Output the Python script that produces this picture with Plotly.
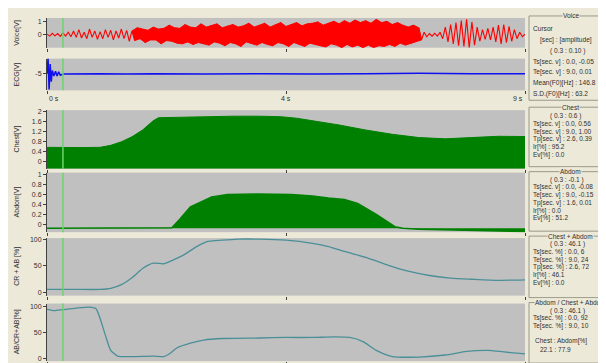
import numpy as np
import plotly.graph_objects as go

# ---------------- data ----------------
T_START, T_END = 0.0, 9.0
cursor_t = 0.3

# voice waveform, one value every 0.05 s (0 .. 9 s)
voice_v = [
    0.05, -0.1, 0.12, -0.08, 0.1, -0.12, 0.15, -0.1, 0.2, -0.15,
    0.3, -0.2, 0.4, -0.25, 0.2, -0.3, 0.45, -0.2, 0.3, -0.35,
    0.25, -0.3, 0.4, -0.2, 0.35, -0.4, 0.3, -0.25, 0.45, -0.3,
    0.35, -0.5, 0.3, -0.45, 0.55, -0.3, 0.45, -0.6, 0.35, -0.4,
    0.6, -0.4, 0.45, -0.7, 0.5, -0.45, 0.75, -0.5, 0.55, -0.65,
    0.5, -0.7, 0.8, -0.55, 0.6, -0.75, 0.55, -0.6, 0.85, -0.7,
    0.6, -0.8, 0.7, -0.55, 0.85, -0.65, 0.55, -0.85, 0.7, -0.6,
    0.8, -0.7, 0.6, -0.9, 0.7, -0.55, 0.9, -0.7, 0.6, -0.8,
    0.75, -0.6, 0.9, -0.75, 0.6, -0.85, 0.8, -0.6, 0.95, -0.7,
    0.65, -0.9, 0.8, -0.6, 0.95, -0.75, 0.7, -0.9, 0.85, -0.65,
    0.9, -0.7, 1.0, -0.85, 0.75, -0.95, 0.9, -0.7, 1.05, -0.8,
    0.85, -1.0, 1.1, -0.75, 0.9, -0.95, 1.15, -0.8, 0.95, -1.0,
    1.1, -0.8, 0.9, -1.0, 1.2, -0.85, 0.95, -0.9, 1.05, -0.75,
    0.8, -0.9, 0.95, -0.65, 0.75, -0.8, 0.6, -0.7, 0.75, -0.55,
    0.55, -0.4, 0.2, -0.15, 0.1, -0.1, 0.12, -0.1, 0.2, -0.3,
    0.6, -0.55, 0.8, -0.7, 0.95, -0.85, 1.1, -0.9, 1.2, -1.0,
    1.0, -0.8, 0.6, -0.5, 0.4, -0.35, 0.5, -0.4, 0.6, -0.55,
    0.75, -0.7, 0.8, -0.6, 0.65, -0.5, 0.4, -0.3, 0.2, -0.15, 0.05,
]
# time span in which the voice trace is so dense it reads as a solid band
voice_dense_span = [1.6, 7.1]

ecg_t = [0, 0.02, 0.04, 0.06, 0.08, 0.10, 0.13, 0.16, 0.19, 0.22, 0.25, 0.3,
         1.0, 1.5, 2.0, 3.0, 4.0, 5.0, 6.0, 7.0, 8.0, 9.0]
ecg_v = [-5, -3.1, -7.0, -3.8, -6.0, -4.6, -5.3, -4.7, -5.3, -4.75, -5.2, -5.05,
         -5.0, -5.05, -5.0, -5.05, -5.0, -5.05, -5.0, -4.95, -5.0, -5.0]

chest_t = [0, 0.3, 0.6, 1.0, 1.2, 1.4, 1.6, 1.8, 2.0, 2.1, 2.5, 3.0, 3.5, 4.0,
           4.4, 4.7, 5.0, 5.5, 6.0, 6.5, 7.0, 7.5, 8.0, 8.5, 9.0]
chest_v = [0.56, 0.55, 0.55, 0.56, 0.64, 0.78, 0.98, 1.25, 1.62, 1.74, 1.76, 1.78,
           1.8, 1.8, 1.78, 1.72, 1.62, 1.45, 1.25, 1.08, 0.95, 0.9, 0.95, 1.0, 0.99]

abdom_t = [0, 1.0, 2.0, 2.35, 2.5, 2.7, 2.9, 3.1, 3.4, 4.0, 4.6, 5.0, 5.3, 5.6,
           5.85, 6.2, 6.55, 6.7, 7.0, 8.0, 9.0]
abdom_v = [-0.08, -0.08, -0.08, -0.07, 0.1, 0.35, 0.45, 0.55, 0.6, 0.61, 0.6, 0.57,
           0.53, 0.5, 0.42, 0.2, -0.05, -0.08, -0.1, -0.13, -0.15]

crab_t = [0, 0.5, 1.0, 1.2, 1.4, 1.6, 1.8, 2.0, 2.2, 2.4, 2.6, 2.8, 3.0, 3.3, 3.6,
          4.0, 4.5, 5.0, 5.3, 5.6, 6.0, 6.4, 6.8, 7.2, 7.6, 8.0, 8.5, 9.0]
crab_v = [6, 6, 6, 8, 15, 28, 45, 55, 54, 62, 72, 85, 95, 98, 100,
          100, 98, 92, 86, 77, 66, 52, 40, 32, 27, 25, 23, 24]

abcr_t = [0, 0.13, 0.3, 0.55, 0.8, 0.92, 1.0, 1.1, 1.2, 1.33, 1.6, 2.0, 2.2, 2.3,
          2.45, 2.7, 2.95, 3.3, 4.0, 4.5, 5.0, 5.4, 5.7, 5.95, 6.2, 6.5, 7.0, 7.5,
          7.9, 8.3, 8.6, 9.0]
abcr_v = [95, 92, 94, 97, 99, 96, 77, 44, 15, 4, 3, 4, 3, 8,
          20, 29, 35, 38, 39, 40, 40, 41, 40, 32, 15, 3, 2, 6,
          13, 15, 12, 8]

x_tick_vals = [0, 4.5, 9]
x_tick_text = ["0 s", "4 s", "9 s"]

axis_titles = ["Voice[V]", "ECG[V]", "Chest[V]", "Abdom[V]", "CR + AB [%]", "AB/CR+AB[%]"]
y_tick_vals = [[0, 1], [-5], [0, 0.4, 0.8, 1.2, 1.6, 2],
               [0, 0.2, 0.4, 0.6, 0.8, 1], [0, 50, 100], [0, 50, 100]]
y_tick_text = [["0", "1"], ["-5"], ["0", "0.4", "0.8", "1.2", "1.6", "2"],
               ["0", "0.2", "0.4", "0.6", "0.8", "1"], ["0", "50", "100"], ["0", "50", "100"]]

box_titles = ["Voice", "Chest", "Abdom", "Chest + Abdom", "Abdom / Chest + Abdom"]
box_lines = [
    ["Cursor", "[sec] : [amplitude]", "( 0.3 : 0.10 )", "Ts[sec. v] : 0.0, -0.05",
     "Te[sec. v] : 9.0, 0.01", "Mean(F0)[Hz] : 146.8", "S.D.(F0)[Hz] : 63.2"],
    ["( 0.3 : 0.6 )", "Ts[sec. v] : 0.0, 0.56", "Te[sec. v] : 9.0, 1.00",
     "Tp[sec. v] : 2.6, 0.39", "Ir[%] : 95.2", "Ev[%] : 0.0"],
    ["( 0.3 : -0.1 )", "Ts[sec. v] : 0.0, -0.08", "Te[sec. v] : 9.0, -0.15",
     "Tp[sec. v] : 1.6, 0.01", "Ir[%] : 0.0", "Ev[%] : 51.2"],
    ["( 0.3 : 46.1 )", "Ts[sec. %] : 0.0, 6", "Te[sec. %] : 9.0, 24",
     "Tp[sec. %] : 2.6, 72", "Ir[%] : 46.1", "Ev[%] : 0.0"],
    ["( 0.3 : 46.1 )", "Ts[sec. %] : 0.0, 92", "Te[sec. %] : 9.0, 10",
     "", "Chest : Abdom[%]", "22.1 : 77.9"],
]

# ---------------- layout helpers ----------------
W, H = 606, 363
BG = "#ECE9D8"
PANEL = "#C0C0C0"
GREEN = "#008000"
TEAL = "#4A8F98"
CURSOR = "#6CD46C"
RED = "#FF0000"
FONT = "Liberation Sans"


def px(p):
    return p / W


def py(p):
    return 1 - p / H


X_DOM = [px(39), px(517)]
# (top px, bottom px, y-range)
panels = [
    (7, 37, [-1.0, 1.31]),
    (48, 80, [-7.1, -3.1]),
    (100, 159, [-0.29, 2.04]),
    (163, 223, [-0.16, 1.04]),
    (229, 287, [-5.6, 101.9]),
    (295, 353, [-5.8, 105.8]),
]

fig = go.Figure()
voice_t = np.linspace(T_START, T_END, len(voice_v))
vv = np.array(voice_v)
in_dense = (voice_t >= voice_dense_span[0]) & (voice_t <= voice_dense_span[1])
up = in_dense & (vv > 0)
lo = in_dense & (vv < 0)
band_x = list(voice_t[up]) + list(voice_t[lo][::-1])
band_y = list(vv[up]) + list(vv[lo][::-1])

fig.add_trace(go.Scatter(x=band_x, y=band_y, mode="lines", fill="toself",
                         fillcolor=RED, line=dict(color=RED, width=1),
                         xaxis="x", yaxis="y", hoverinfo="skip"))
fig.add_trace(go.Scatter(x=voice_t, y=voice_v, mode="lines",
                         line=dict(color=RED, width=1.1), xaxis="x", yaxis="y"))
fig.add_trace(go.Scatter(x=ecg_t, y=ecg_v, mode="lines",
                         line=dict(color="#1010F0", width=1.5), xaxis="x2", yaxis="y2"))
# chest: area down to the bottom of its axis
fig.add_trace(go.Scatter(x=[T_START, T_END], y=[panels[2][2][0]] * 2, mode="lines",
                         line=dict(width=0), xaxis="x3", yaxis="y3", hoverinfo="skip"))
fig.add_trace(go.Scatter(x=chest_t, y=chest_v, mode="lines", fill="tonexty",
                         fillcolor=GREEN, line=dict(color=GREEN, width=1),
                         xaxis="x3", yaxis="y3"))
# abdom: area down to its start level
fig.add_trace(go.Scatter(x=[T_START, T_END], y=[abdom_v[0]] * 2, mode="lines",
                         line=dict(width=0), xaxis="x4", yaxis="y4", hoverinfo="skip"))
fig.add_trace(go.Scatter(x=abdom_t, y=abdom_v, mode="lines", fill="tonexty",
                         fillcolor=GREEN, line=dict(color=GREEN, width=1.5),
                         xaxis="x4", yaxis="y4"))
fig.add_trace(go.Scatter(x=crab_t, y=crab_v, mode="lines",
                         line=dict(color=TEAL, width=1.3, shape="spline", smoothing=0.6),
                         xaxis="x5", yaxis="y5"))
fig.add_trace(go.Scatter(x=abcr_t, y=abcr_v, mode="lines",
                         line=dict(color=TEAL, width=1.3, shape="spline", smoothing=0.6),
                         xaxis="x6", yaxis="y6"))

layout = dict(
    width=W, height=H, margin=dict(l=0, r=0, t=0, b=0),
    paper_bgcolor=BG, plot_bgcolor=PANEL, showlegend=False,
    font=dict(family=FONT, size=7, color="#303030"),
)
shapes = []
annotations = []
for i, (top, bot, yr) in enumerate(panels):
    n = "" if i == 0 else str(i + 1)
    layout["xaxis" + n] = dict(
        domain=X_DOM, range=[T_START, T_END], anchor="y" + n,
        showgrid=False, zeroline=False, showline=False,
        ticks="outside", ticklen=3, tickcolor="#404040",
        tickvals=x_tick_vals, showticklabels=False, fixedrange=True,
    )
    layout["yaxis" + n] = dict(
        domain=[py(bot), py(top)], range=yr, anchor="x" + n,
        showgrid=False, zeroline=False, showline=True, linecolor="#404040",
        linewidth=1, ticks="outside", ticklen=3, tickcolor="#404040",
        tickvals=y_tick_vals[i], ticktext=y_tick_text[i],
        tickfont=dict(size=7, color="#303030"), fixedrange=True,
    )
    shapes.append(dict(type="line", xref="x" + n, yref="y" + n + " domain",
                       x0=cursor_t, x1=cursor_t, y0=0, y1=1,
                       line=dict(color=CURSOR, width=1.5)))
    annotations.append(dict(text=axis_titles[i], xref="paper", yref="paper",
                            x=px(9), y=py((top + bot) / 2), textangle=-90,
                            showarrow=False, font=dict(size=7, color="#303030"),
                            xanchor="center", yanchor="middle"))

# x tick labels under the ECG panel
for v, t, anc in zip(x_tick_vals, x_tick_text, ["left", "center", "right"]):
    annotations.append(dict(text=t, xref="x2", yref="paper", x=v, y=py(88),
                            xanchor=anc, yanchor="middle", showarrow=False,
                            font=dict(size=7, color="#303030")))

# right-hand group boxes
boxes = [
    # x0, x1, y0, y1, first line y, line step, font size, line x offsets
    (521, 604, 5, 90, 18, 11, 6.6, [523, 530, 540, 523, 523, 523, 523]),
    (521, 604, 97, 157, 106, 7.8, 6.5, [540, 523, 523, 523, 523, 523]),
    (521, 604, 162, 222, 170, 7.8, 6.5, [540, 523, 523, 523, 523, 523]),
    (521, 604, 227, 289, 235, 7.8, 6.5, [540, 523, 523, 523, 523, 523]),
    (521, 604, 294, 355, 302, 7.8, 6.5, [540, 523, 523, 523, 525, 530]),
]
for (x0, x1, y0, y1, ly, step, fs, lx), title, lines in zip(boxes, box_titles, box_lines):
    shapes.append(dict(type="rect", xref="paper", yref="paper",
                       x0=px(x0), x1=px(x1), y0=py(y1), y1=py(y0),
                       line=dict(color="#9A9888", width=1)))
    annotations.append(dict(text=title, xref="paper", yref="paper",
                            x=px((x0 + x1) / 2), y=py(y0), xanchor="center",
                            yanchor="middle", showarrow=False, bgcolor=BG,
                            borderpad=0, font=dict(size=fs, color="#303030")))
    for k, line in enumerate(lines):
        if not line:
            continue
        annotations.append(dict(text=line, xref="paper", yref="paper",
                                x=px(lx[k]), y=py(ly + k * step), xanchor="left",
                                yanchor="middle", showarrow=False,
                                font=dict(size=fs, color="#303030")))

layout["shapes"] = shapes
layout["annotations"] = annotations
fig.update_layout(**layout)
fig.write_html("out.html")
